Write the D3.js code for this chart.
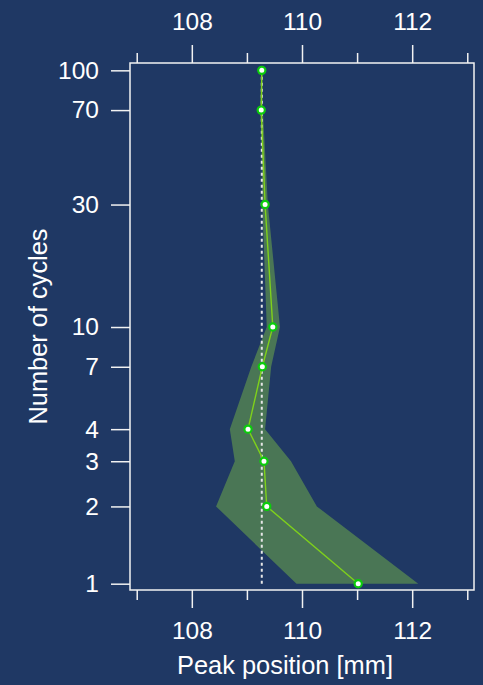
<!DOCTYPE html>
<html>
<head>
<meta charset="utf-8">
<script src="https://cdn.jsdelivr.net/npm/d3@7"></script>
<style>
  html, body { margin: 0; padding: 0; background: #1f3864; }
  svg { display: block; }
  text { font-family: "Liberation Sans", Arial, Helvetica, sans-serif; fill: #ffffff; }
</style>
</head>
<body>
<svg id="chart" width="483" height="685"></svg>
<script>
// Number of cycles (y, log scale)
const cycles = [1, 2, 3, 4, 7, 10, 30, 70, 100];
// Peak position [mm] per cycle count
const peak  = [111.02, 109.36, 109.31, 109.02, 109.28, 109.47, 109.33, 109.26, 109.27];
// Spread band: lower and upper bounds of the peak position
const lower = [109.90, 108.44, 108.78, 108.69, 109.08, 109.36, 109.28, 109.25, 109.26];
const upper = [112.11, 110.27, 109.80, 109.33, 109.44, 109.60, 109.38, 109.29, 109.28];
// Reference position (dashed vertical line)
const refPeak = 109.27;

// Axis ticks
const xMajorTicks = [108, 110, 112];
const xMinorTicks = [107, 109, 111, 113];
const yTicks = [1, 2, 3, 4, 7, 10, 30, 70, 100];

const svg = d3.select("#chart");
const box = { left: 130, right: 474, top: 63, bottom: 590 };

const x = d3.scaleLinear().domain([106.878, 113.122]).range([box.left, box.right]);
const y = d3.scaleLog().domain([0.945, 106.8]).range([box.bottom, box.top]);

const rows = cycles.map((c, i) => ({ c, p: peak[i], lo: lower[i], hi: upper[i] }));

// Spread band
const band = d3.area()
  .y(d => y(d.c))
  .x0(d => x(d.lo))
  .x1(d => x(d.hi));
svg.append("path")
  .datum(rows)
  .attr("d", band)
  .attr("fill", "#4a7655");

// Dashed reference line
svg.append("line")
  .attr("x1", x(refPeak)).attr("x2", x(refPeak))
  .attr("y1", y(d3.min(cycles))).attr("y2", y(d3.max(cycles)))
  .attr("stroke", "#e6e6e6")
  .attr("stroke-width", 2)
  .attr("stroke-dasharray", "3,3");

// Peak position line
svg.append("path")
  .datum(rows)
  .attr("d", d3.line().x(d => x(d.p)).y(d => y(d.c)))
  .attr("fill", "none")
  .attr("stroke", "#7fd11b")
  .attr("stroke-width", 1.4);

// Points
svg.append("g").selectAll("circle")
  .data(rows)
  .join("circle")
  .attr("cx", d => x(d.p))
  .attr("cy", d => y(d.c))
  .attr("r", 3.6)
  .attr("fill", "#ffffff")
  .attr("stroke", "#0ccc0c")
  .attr("stroke-width", 2.2);

// Plot frame
svg.append("rect")
  .attr("x", box.left).attr("y", box.top)
  .attr("width", box.right - box.left).attr("height", box.bottom - box.top)
  .attr("fill", "none")
  .attr("stroke", "#f2f2f2")
  .attr("stroke-width", 1.5);

function styleAxis(g) {
  g.select(".domain").remove();
  g.selectAll(".tick line").attr("stroke", "#f2f2f2").attr("stroke-width", 1.5);
  g.selectAll(".tick text")
    .attr("fill", "#ffffff")
    .style("font-size", "24.5px")
    .style("font-family", "\"Liberation Sans\", Arial, Helvetica, sans-serif");
}

// Bottom axis: major labelled, minor unlabelled
svg.append("g").attr("transform", `translate(0,${box.bottom})`)
  .call(d3.axisBottom(x).tickValues(xMajorTicks).tickSize(18).tickPadding(14).tickFormat(d3.format("d")))
  .call(styleAxis);
svg.append("g").attr("transform", `translate(0,${box.bottom})`)
  .call(d3.axisBottom(x).tickValues(xMinorTicks).tickSize(10).tickFormat(""))
  .call(styleAxis);

// Top axis
svg.append("g").attr("transform", `translate(0,${box.top})`)
  .call(d3.axisTop(x).tickValues(xMajorTicks).tickSize(18).tickPadding(15).tickFormat(d3.format("d")))
  .call(styleAxis);
svg.append("g").attr("transform", `translate(0,${box.top})`)
  .call(d3.axisTop(x).tickValues(xMinorTicks).tickSize(10).tickFormat(""))
  .call(styleAxis);

// Left axis
svg.append("g").attr("transform", `translate(${box.left},0)`)
  .call(d3.axisLeft(y).tickValues(yTicks).tickSize(19).tickPadding(12).tickFormat(d3.format("d")))
  .call(styleAxis);

// Axis titles
svg.append("text")
  .attr("x", 285).attr("y", 674)
  .attr("text-anchor", "middle")
  .style("font-size", "25.4px")
  .text("Peak position [mm]");

svg.append("text")
  .attr("transform", `translate(47,${(box.top + box.bottom) / 2}) rotate(-90)`)
  .attr("text-anchor", "middle")
  .style("font-size", "25.4px")
  .text("Number of cycles");
</script>
</body>
</html>
